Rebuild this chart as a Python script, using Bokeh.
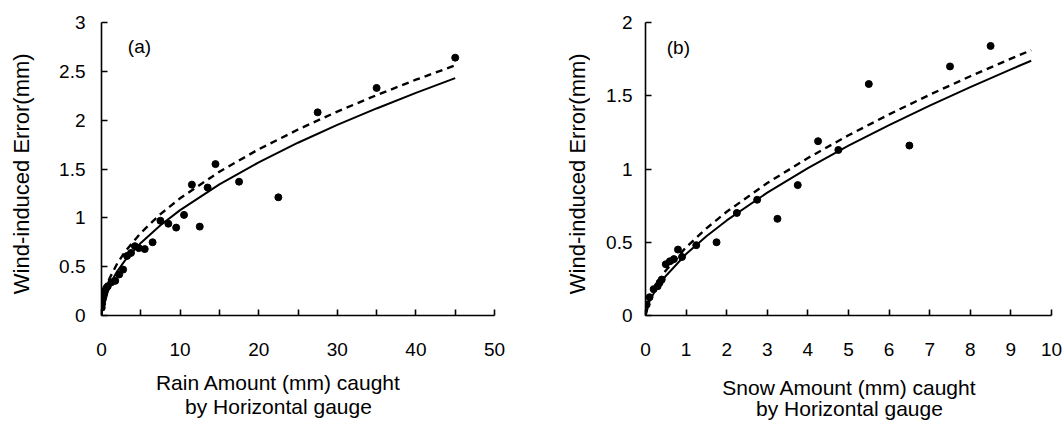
from bokeh.plotting import figure
from bokeh.layouts import row, column
from bokeh.models import Range1d, FixedTicker, CustomJSTickFormatter, Label
from bokeh.core.properties import value
from bokeh.embed import file_html
from bokeh.resources import INLINE
import math

# ---------------- data ----------------
rain_x = [0.03, 0.08, 0.15, 0.25, 0.35, 0.45, 0.6, 0.8, 1.25, 1.75, 2.25, 2.75,
          3.25, 3.75, 4.25, 4.75, 5.5, 6.5, 7.5, 8.5, 9.5, 10.5, 11.5, 12.5,
          13.5, 14.5, 17.5, 22.5, 27.5, 35, 45]
rain_err = [0.08, 0.12, 0.16, 0.19, 0.22, 0.25, 0.28, 0.30, 0.34, 0.355, 0.42, 0.47,
            0.61, 0.64, 0.71, 0.69, 0.68, 0.75, 0.97, 0.94, 0.90, 1.03, 1.34, 0.91,
            1.31, 1.55, 1.37, 1.21, 2.08, 2.33, 2.64]

rain_curve_x = [0, 0.1, 0.25, 0.5, 1, 2, 3, 5, 7.5, 10, 15, 20, 25, 30, 35, 40, 45]
rain_solid = [0, 0.090, 0.148, 0.215, 0.312, 0.453, 0.564, 0.743, 0.924, 1.079,
              1.343, 1.568, 1.769, 1.951, 2.120, 2.279, 2.43]
rain_dashed = [0, 0.118, 0.187, 0.265, 0.376, 0.533, 0.654, 0.846, 1.038, 1.200,
               1.472, 1.702, 1.904, 2.088, 2.256, 2.414, 2.561]

snow_x = [0.03, 0.1, 0.2, 0.3, 0.35, 0.4, 0.5, 0.6, 0.7, 0.8, 0.9, 1.25, 1.75,
          2.25, 2.75, 3.25, 3.75, 4.25, 4.75, 5.5, 6.5, 7.5, 8.5]
snow_err = [0.075, 0.125, 0.18, 0.20, 0.225, 0.245, 0.35, 0.37, 0.385, 0.45, 0.40,
            0.48, 0.50, 0.70, 0.79, 0.66, 0.89, 1.19, 1.13, 1.58, 1.16, 1.70, 1.84]

snow_curve_x = [0, 0.1, 0.25, 0.5, 1, 1.5, 2, 3, 4, 5, 6, 7, 8, 9, 9.5]
snow_solid = [0, 0.098, 0.175, 0.270, 0.419, 0.541, 0.649, 0.839, 1.006, 1.159,
              1.300, 1.433, 1.559, 1.680, 1.739]
snow_dashed = [0, 0.116, 0.202, 0.307, 0.466, 0.595, 0.708, 0.904, 1.075, 1.230,
               1.373, 1.507, 1.633, 1.753, 1.811]

rain_xticks = [0, 10, 20, 30, 40, 50]
rain_xminor = [5, 15, 25, 35, 45]
rain_yticks = [0, 0.5, 1, 1.5, 2, 2.5, 3]
snow_xticks = [0, 1, 2, 3, 4, 5, 6, 7, 8, 9, 10]
snow_yticks = [0, 0.5, 1, 1.5, 2]

y_title = "Wind-induced Error(mm)"
rain_title = ["Rain Amount (mm) caught", "by Horizontal gauge"]
snow_title = ["Snow Amount (mm) caught", "by Horizontal gauge"]

FONT = "Liberation Sans"
TICK_FS = "19px"
XTITLE_FS = "21px"
YTITLE_FS = "22px"
TOP_H = 368
BOT_H = 53


def style_axes(p, xticks, xminor, yticks, xstand, ystand):
    p.xaxis.ticker = FixedTicker(ticks=xticks, minor_ticks=xminor)
    p.yaxis.ticker = FixedTicker(ticks=yticks)
    p.yaxis.formatter = CustomJSTickFormatter(code="return String(tick);")
    for ax in (p.xaxis, p.yaxis):
        ax.axis_line_color = "black"
        ax.axis_line_width = 1.6
        ax.major_tick_line_color = "black"
        ax.major_tick_line_width = 1.6
        ax.major_tick_in = 6
        ax.major_tick_out = 0
        ax.minor_tick_line_color = "black"
        ax.minor_tick_line_width = 1.6
        ax.minor_tick_in = 6
        ax.minor_tick_out = 0
        ax.major_label_text_font = FONT
        ax.major_label_text_font_size = TICK_FS
        ax.major_label_text_color = "black"
    p.xaxis.major_label_standoff = xstand
    p.yaxis.major_label_standoff = ystand
    p.grid.visible = False
    p.outline_line_color = None


def panel(width, bl, br, bt, bb, xr, yr):
    p = figure(width=width, height=TOP_H, output_backend="svg",
               toolbar_location=None, x_range=Range1d(*xr), y_range=Range1d(*yr),
               min_border_left=bl, min_border_right=br,
               min_border_top=bt, min_border_bottom=bb)
    p.background_fill_color = "white"
    p.border_fill_color = "white"
    return p


def blank(width, height):
    p = figure(width=width, height=height, output_backend="svg",
               toolbar_location=None, x_range=Range1d(0, width),
               y_range=Range1d(0, height), min_border=0)
    p.axis.visible = False
    p.grid.visible = False
    p.outline_line_color = None
    p.background_fill_color = "white"
    p.border_fill_color = "white"
    return p


def put_text(p, xs, ys, texts, size, angle=0.0):
    p.text(x=xs, y=ys, text=texts, text_font=value(FONT), text_font_size=size,
           text_align="center", text_baseline="middle", text_color="black",
           angle=angle)


# ---------------- panel (a) ----------------
yt1 = blank(40, TOP_H)
put_text(yt1, [21], [178], [y_title], YTITLE_FS, angle=math.pi / 2)

p1 = panel(490, 61, 36, 22, 50, (0, 50), (0, 3))
style_axes(p1, rain_xticks, rain_xminor, rain_yticks, 27, 16)
p1.line(rain_curve_x, rain_dashed, line_color="black", line_width=2.4, line_dash="7 5")
p1.line(rain_curve_x, rain_solid, line_color="black", line_width=2)
p1.scatter(rain_x, rain_err, size=7, color="black")
p1.add_layout(Label(x=4.83, y=2.75, text="(a)", text_font=FONT, text_font_size="19px",
                    text_align="center", text_baseline="middle", text_color="black"))

bt1 = blank(530, BOT_H)
put_text(bt1, [278, 278], [BOT_H - 14, BOT_H - 38], rain_title, XTITLE_FS)

# ---------------- panel (b) ----------------
yt2 = blank(60, TOP_H)
put_text(yt2, [47], [178], [y_title], YTITLE_FS, angle=math.pi / 2)

p2 = panel(474, 55, 13, 22, 53, (0, 10), (0, 2))
style_axes(p2, snow_xticks, [], snow_yticks, 27, 13)
p2.line(snow_curve_x, snow_dashed, line_color="black", line_width=2.4, line_dash="7 5")
p2.line(snow_curve_x, snow_solid, line_color="black", line_width=2)
p2.scatter(snow_x, snow_err, size=7, color="black")
p2.add_layout(Label(x=0.81, y=1.83, text="(b)", text_font=FONT, text_font_size="19px",
                    text_align="center", text_baseline="middle", text_color="black"))

bt2 = blank(534, BOT_H)
put_text(bt2, [319, 319], [BOT_H - 19, BOT_H - 40], snow_title, XTITLE_FS)

layout = column(row(yt1, p1, yt2, p2), row(bt1, bt2))
open("out.html", "w").write(file_html(layout, INLINE))
